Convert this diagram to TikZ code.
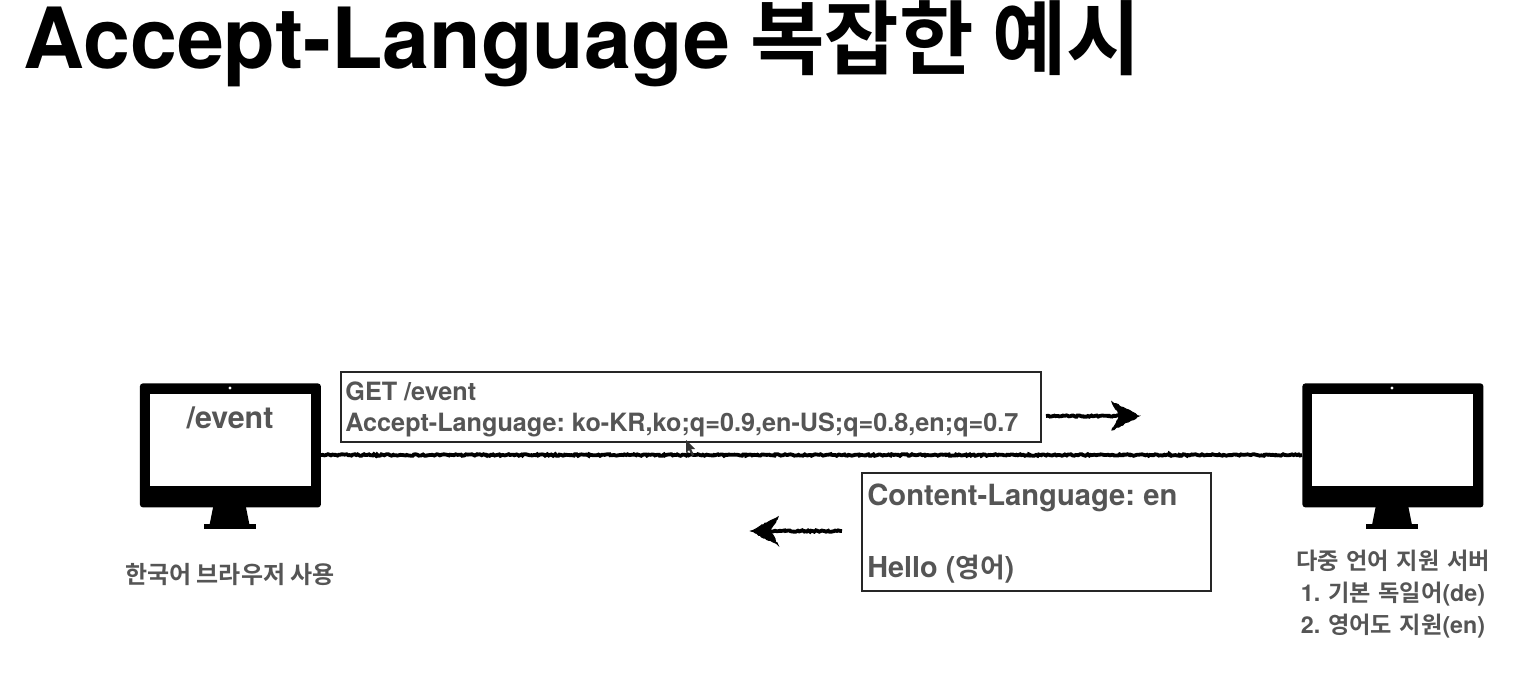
\documentclass[tikz,border=0pt]{standalone}
\usepackage{fontspec}
\setmainfont{TeX Gyre Heros}[BoldFont=* Bold]
\newfontfamily\krfont{Noto Sans CJK KR}[BoldFont=* Bold]
\usetikzlibrary{decorations.pathmorphing,arrows.meta}
\definecolor{txt}{HTML}{555555}
\frenchspacing
\tikzset{
  x=0.5pt,y=-0.5pt,
  pcbody/.style={fill=black,rounded corners=1.5pt,inner sep=0,minimum width=90.5pt,minimum height=62pt,anchor=north west},
  pcscreen/.style={fill=white,inner sep=0,minimum width=80.5pt,minimum height=46pt,anchor=north},
  pcbase/.style={fill=black,inner sep=0,minimum width=26pt,minimum height=2.5pt,anchor=north},
  pccam/.style={circle,fill=white,inner sep=0,minimum size=1.6pt},
  msgbox/.style={draw=black!85,line width=1pt,inner sep=0,anchor=north west},
  msgtext/.style={text=txt,font=\bfseries,inner sep=0,anchor=base west},
  captext/.style={text=txt,font=\bfseries,inner sep=0,align=center},
  rough/.style={draw=black,line width=1.9pt,decorate,decoration={random steps,segment length=0.8pt,amplitude=0.4pt}},
  roughhead/.style={draw=black,fill=black,line width=0.5pt,decorate,decoration={random steps,segment length=1pt,amplitude=0.35pt}}
}
\begin{document}
\begin{tikzpicture}
\pgfmathsetseed{7}
\useasboundingbox (0,0) rectangle (1520,674);
\fill[white] (0,0) rectangle (1520,674);
% title
\node[anchor=base west,inner sep=0,font=\bfseries\fontsize{42.2}{42}\selectfont] (title) at (23,69) {Accept-Language};
\node[anchor=base west,inner sep=0,font=\bfseries\fontsize{40.5}{42}\selectfont] (titlekr) at (750,69) {\krfont 복잡한 예시};
% left monitor
\node[pcbase] (lbase) at (229.5,524) {};
\fill[black] (213.5,505) -- (245.5,505) -- (249.5,525) -- (209.5,525) -- cycle;
\node[pcbody] (pcL) at (139.5,383) {};
\node[pcscreen] (scrL) at (230,394) {};
\node[pccam] (camL) at (230,388) {};
\node[text=txt,font=\bfseries\fontsize{15.2}{16}\selectfont,inner sep=0,anchor=base] (pathL) at (230,428) {/event};
\node[captext,font=\bfseries\fontsize{12}{16}\selectfont] (capL) at (230,575) {{\krfont 한국어 브라우저 사용}};
% right monitor
\node[pcbase] (rbase) at (1392,524) {};
\fill[black] (1376,505) -- (1408,505) -- (1412,525) -- (1372,525) -- cycle;
\node[pcbody] (pcR) at (1302,383) {};
\node[pcscreen] (scrR) at (1392.5,394) {};
\node[pccam] (camR) at (1392,388) {};
\node[captext,font=\bfseries\fontsize{11.6}{16}\selectfont,text width=110pt] (capR) at (1393,594) {{\krfont 다중 언어 지원 서버}\\1. {\krfont 기본 독일어}(de)\\2. {\krfont 영어도 지원}(en)};
% wire
\coordinate (wL) at (321,455);
\coordinate (wR) at (1302,455);
\path[rough] (wL) -- (wR);
% request
\node[msgbox,minimum width=350pt,minimum height=35pt] (req) at (339.5,370.5) {};
\node[msgtext,font=\bfseries\fontsize{12.6}{14}\selectfont] (req1) at (345,400) {GET /event};
\node[msgtext,font=\bfseries\fontsize{12.6}{14}\selectfont] (req2) at (345,431) {Accept-Language: ko-KR,ko;q=0.9,en-US;q=0.8,en;q=0.7};
% response
\node[msgbox,minimum width=174.5pt,minimum height=59pt] (res) at (861,471.5) {};
\node[msgtext,font=\bfseries\fontsize{14.6}{16}\selectfont] (res1) at (867,505) {Content-Language: en};
\node[msgtext,font=\bfseries\fontsize{14.4}{16}\selectfont] (res2) at (867,577) {Hello ({\krfont\fontsize{13.4}{16}\selectfont 영어})};
% arrows
\coordinate (a1s) at (1046,416);
\coordinate (a1e) at (1130,416);
\path[rough] (a1s) -- (a1e);
\path[roughhead] (a1e)+(9,0) -- ++(-18,-14) -- ++(8,14) -- ++(-8,14) -- cycle;
\coordinate (a2s) at (842,531);
\coordinate (a2e) at (760,531);
\path[rough] (a2s) -- (a2e);
\path[roughhead] (a2e)+(-9,0) -- ++(18,-14) -- ++(-8,14) -- ++(8,14) -- cycle;
% cursor
\fill[black!80] (686,440) -- (686,453) -- (689,450) -- (692,456) -- (694,455) -- (691,449) -- (695,449) -- cycle;
\end{tikzpicture}
\end{document}
